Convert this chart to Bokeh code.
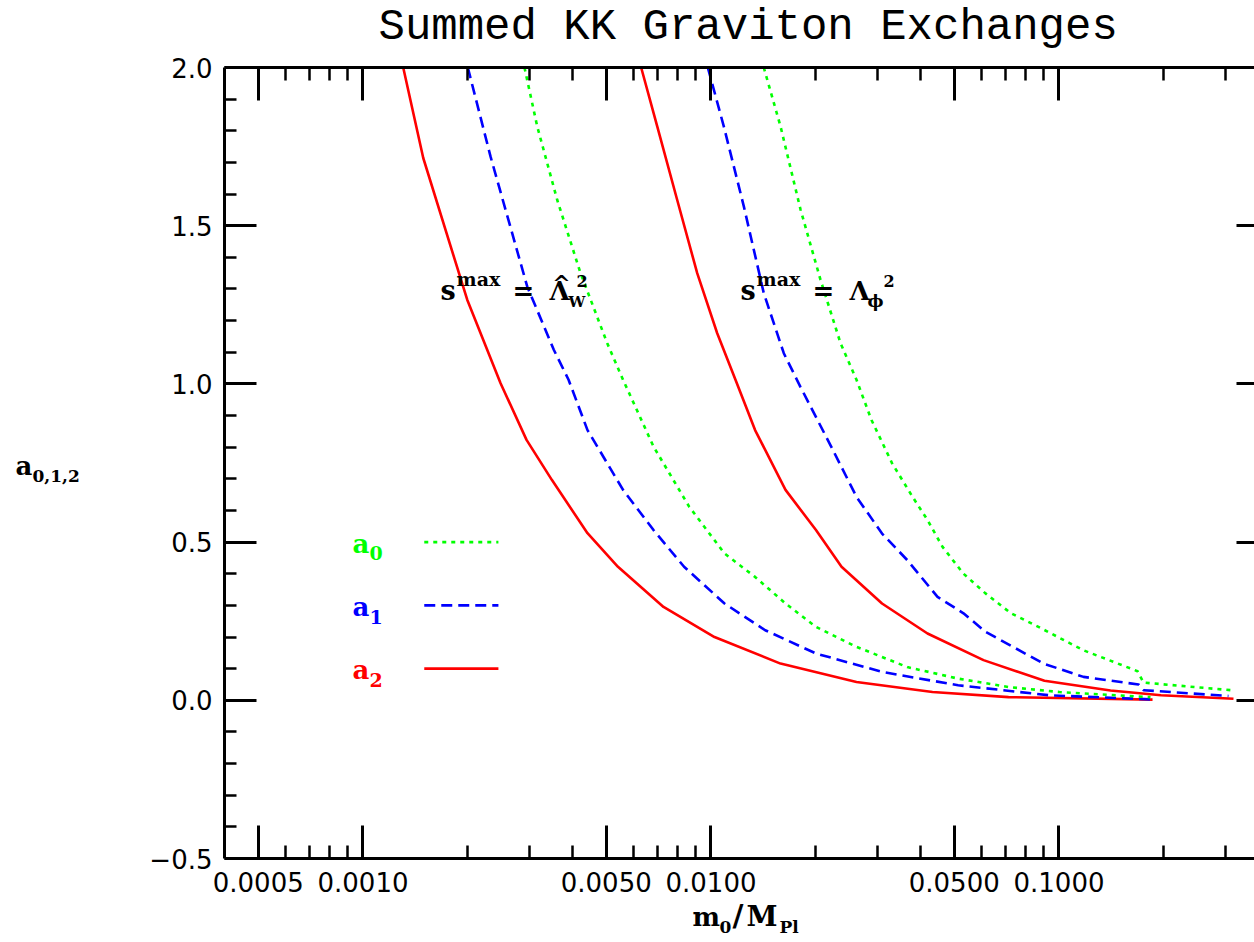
import math
from bokeh.plotting import figure
from bokeh.models import FixedTicker, LogAxis, LinearAxis, Label
from bokeh.embed import file_html
from bokeh.resources import INLINE

TITLE = "Summed KK Graviton Exchanges"

# ---- data: coefficient a_i versus m0/MPl ----
# group s_max = hat-Lambda_W^2
W_A2_X = [0.001305, 0.001490, 0.001993, 0.002485, 0.002951, 0.003492, 0.004417, 0.005404,
          0.007305, 0.010235, 0.015842, 0.02619, 0.04330, 0.07161, 0.1857]
W_A2_Y = [2.0, 1.714, 1.266, 1.002, 0.823, 0.696, 0.528, 0.422,
          0.295, 0.200, 0.116, 0.058, 0.026, 0.010, 0.002]
W_A1_X = [0.002001, 0.002325, 0.002964, 0.003534, 0.003897, 0.004417, 0.005589, 0.006837,
          0.008368, 0.010936, 0.014312, 0.02003, 0.03101, 0.05129, 0.09393, 0.1832]
W_A1_Y = [2.0, 1.719, 1.308, 1.108, 1.013, 0.854, 0.665, 0.538,
          0.422, 0.306, 0.2215, 0.148, 0.0897, 0.0475, 0.0158, 0.003]
W_A0_X = [0.002911, 0.003167, 0.003614, 0.004218, 0.005031, 0.005589, 0.006837, 0.008655,
          0.010936, 0.013387, 0.016374, 0.02003, 0.02619, 0.03665, 0.05129, 0.07161, 0.10034, 0.1832]
W_A0_Y = [2.0, 1.814, 1.582, 1.350, 1.129, 1.013, 0.802, 0.612,
          0.464, 0.390, 0.306, 0.232, 0.169, 0.105, 0.0686, 0.042, 0.026, 0.010]

# group s_max = Lambda_phi^2
P_A2_X = [0.006300, 0.007007, 0.007994, 0.009128, 0.010420, 0.011759, 0.013387, 0.016374,
          0.02003, 0.02372, 0.03101, 0.04190, 0.06069, 0.09084, 0.14062, 0.19649, 0.31727]
P_A2_Y = [2.0, 1.814, 1.582, 1.350, 1.160, 1.013, 0.854, 0.665,
          0.538, 0.422, 0.306, 0.211, 0.127, 0.062, 0.031, 0.0158, 0.005]
P_A1_X = [0.009792, 0.010884, 0.012427, 0.014180, 0.016188, 0.018086, 0.02215, 0.02619,
          0.03101, 0.03665, 0.04477, 0.05316, 0.06149, 0.09026, 0.11760, 0.16925, 0.17496, 0.30699]
P_A1_Y = [2.0, 1.814, 1.561, 1.287, 1.097, 0.990, 0.802, 0.643,
          0.527, 0.443, 0.327, 0.275, 0.2165, 0.116, 0.074, 0.050, 0.032, 0.0137]
P_A0_X = [0.014180, 0.015842, 0.018086, 0.02064, 0.02356, 0.02619, 0.02892, 0.03315,
          0.03795, 0.04190, 0.04628, 0.05306, 0.06149, 0.07255, 0.08908, 0.11760, 0.16816, 0.17496, 0.31109]
P_A0_Y = [2.0, 1.814, 1.551, 1.329, 1.129, 1.013, 0.886, 0.749,
          0.643, 0.570, 0.485, 0.401, 0.338, 0.276, 0.227, 0.158, 0.092, 0.056, 0.032]

# ---- axes ----
X_START, X_END = 0.0004, 0.3646
Y_START, Y_END = -0.5, 2.0
X_MAJOR = [0.0005, 0.001, 0.005, 0.01, 0.05, 0.1]
X_LABELS = ["0.0005", "0.0010", "0.0050", "0.0100", "0.0500", "0.1000"]
X_MINOR = [0.0006, 0.0007, 0.0008, 0.0009, 0.002, 0.003, 0.004, 0.006, 0.007, 0.008, 0.009,
           0.02, 0.03, 0.04, 0.06, 0.07, 0.08, 0.09, 0.2, 0.3]
Y_MAJOR = [-0.5, 0.0, 0.5, 1.0, 1.5, 2.0]
Y_LABELS = ["\u22120.5", "0.0", "0.5", "1.0", "1.5", "2.0"]
Y_MINOR = [-0.4, -0.3, -0.2, -0.1, 0.1, 0.2, 0.3, 0.4, 0.6, 0.7, 0.8, 0.9,
           1.1, 1.2, 1.3, 1.4, 1.6, 1.7, 1.8, 1.9]

# ---- layout (pixels) ----
W, H = 1254, 942
AX_L, AX_R, AX_T, AX_B = 224, 1254, 67, 858   # where the axes box sits on the canvas
px_dec = (AX_R - AX_L) / math.log10(X_END / X_START)
px_unit = (AX_B - AX_T) / (Y_END - Y_START)
XL = X_START / 10 ** (AX_L / px_dec)
XR = X_END * 10 ** ((W - AX_R) / px_dec)
YB = Y_START - (H - AX_B) / px_unit
YT = Y_END + AX_T / px_unit

RED, BLUE, GREEN = "#ff0000", "#0000ff", "#00ff00"
SERIF = "DejaVu Serif"

p = figure(width=W, height=H, x_axis_type="log", title=None,
           x_range=(XL, XR), y_range=(YB, YT),
           output_backend="svg", toolbar_location=None, min_border=0)
p.outline_line_color = None
p.xgrid.grid_line_color = None
p.ygrid.grid_line_color = None
p.background_fill_color = "white"
p.border_fill_color = "white"


def style_axis(ax, tin, mtin):
    ax.axis_line_width = 3
    ax.major_tick_line_width = 3
    ax.minor_tick_line_width = 2.5
    ax.major_tick_in = tin
    ax.major_tick_out = 0
    ax.minor_tick_in = mtin
    ax.minor_tick_out = 0
    ax.major_label_text_font = "DejaVu Sans"
    ax.major_label_text_font_size = "26px"
    ax.major_label_text_color = "black"


xa = p.xaxis[0]
xa.ticker = FixedTicker(ticks=X_MAJOR, minor_ticks=X_MINOR)
xa.major_label_overrides = dict(zip(X_MAJOR, X_LABELS))
style_axis(xa, 33, 13)
xa.major_label_standoff = 13
xa.fixed_location = Y_START
xa.bounds = (X_START, X_END)

ya = p.yaxis[0]
ya.ticker = FixedTicker(ticks=Y_MAJOR, minor_ticks=Y_MINOR)
ya.major_label_overrides = dict(zip(Y_MAJOR, Y_LABELS))
style_axis(ya, 32, 12)
ya.major_label_standoff = 12
ya.fixed_location = X_START
ya.bounds = (Y_START, Y_END)

top = LogAxis(ticker=FixedTicker(ticks=X_MAJOR, minor_ticks=X_MINOR),
              major_label_overrides={t: "" for t in X_MAJOR},
              fixed_location=Y_END, bounds=(X_START, X_END))
style_axis(top, 33, 13)
top.major_label_standoff = 0
p.add_layout(top, "above")

right = LinearAxis(ticker=FixedTicker(ticks=Y_MAJOR, minor_ticks=[]),
                   major_label_overrides={t: "" for t in Y_MAJOR},
                   fixed_location=X_END, bounds=(Y_START, Y_END))
style_axis(right, 18, 0)
right.axis_line_color = None
right.minor_tick_line_color = None
right.major_label_standoff = 0
p.add_layout(right, "right")

# ---- curves ----
LW = 2.6
for xs, ys in ((W_A2_X, W_A2_Y), (P_A2_X, P_A2_Y)):
    p.line(xs, ys, line_color=RED, line_width=LW)
for xs, ys in ((W_A1_X, W_A1_Y), (P_A1_X, P_A1_Y)):
    p.line(xs, ys, line_color=BLUE, line_width=LW, line_dash="11 6")
for xs, ys in ((W_A0_X, W_A0_Y), (P_A0_X, P_A0_Y)):
    p.line(xs, ys, line_color=GREEN, line_width=LW, line_dash="4 5")

BASE_SHIFT = 0.36   # labels are anchored near mid-height; lift to put baseline at dy


def txt(x, y, s, dx, dy, size, color="black", font=SERIF, style="bold", align="left"):
    p.add_layout(Label(x=x, y=y, text=s, x_offset=dx, y_offset=dy + BASE_SHIFT * size,
                       text_font=font, text_font_size=f"{size}px", text_font_style=style,
                       text_color=color, text_align=align, text_baseline="alphabetic"))


# ---- title ----
txt(X_START, Y_END, TITLE, 154, 25, 44, font="Liberation Mono", style="normal")

# ---- legend (label, then line sample) ----
LEG_LABEL_X = 0.000933
LEG_X0, LEG_X1 = 0.0015, 0.00245
LEGEND = [("0", GREEN, "4 5", 0.5), ("1", BLUE, "11 6", 0.3), ("2", RED, "solid", 0.1)]
for sub, col, dash, ry in LEGEND:
    txt(LEG_LABEL_X, ry, "a", 0, -11, 26, color=col)
    txt(LEG_LABEL_X, ry, sub, 17, -18, 19, color=col)
    p.line([LEG_X0, LEG_X1], [ry, ry], line_color=col, line_width=LW, line_dash=dash)

# ---- curve-group annotations ----
ANN_Y = 1.2636
ANN_W_X = 0.001671
ANN_P_X = 0.01216
for ax_ in (ANN_W_X, ANN_P_X):
    txt(ax_, ANN_Y, "s", 0, 0, 27)
    txt(ax_, ANN_Y, "max", 16, 15, 19)
    txt(ax_, ANN_Y, "=", 72, 0, 26)
    txt(ax_, ANN_Y, "\u039b", 109, 0, 26)
# hat-Lambda_W^2
txt(ANN_W_X, ANN_Y, "^", 121, 10, 22, align="center")
txt(ANN_W_X, ANN_Y, "W", 128, -7, 15)
txt(ANN_W_X, ANN_Y, "2", 136, 14, 16)
# Lambda_phi^2
txt(ANN_P_X, ANN_Y, "\u03d5", 127, -7, 17)
txt(ANN_P_X, ANN_Y, "2", 143, 14, 16)

# ---- axis titles ----
txt(X_START, Y_START, "m", 468, -68, 26)
txt(X_START, Y_START, "0", 495, -75, 17)
txt(X_START, Y_START, "/", 508, -68, 30)
txt(X_START, Y_START, "M", 522, -68, 28)
txt(X_START, Y_START, "Pl", 555, -75, 17)

txt(X_START, Y_START, "a", -209, 383, 26)
txt(X_START, Y_START, "0,1,2", -192, 376, 17)

open("out.html", "w").write(file_html(p, INLINE))
